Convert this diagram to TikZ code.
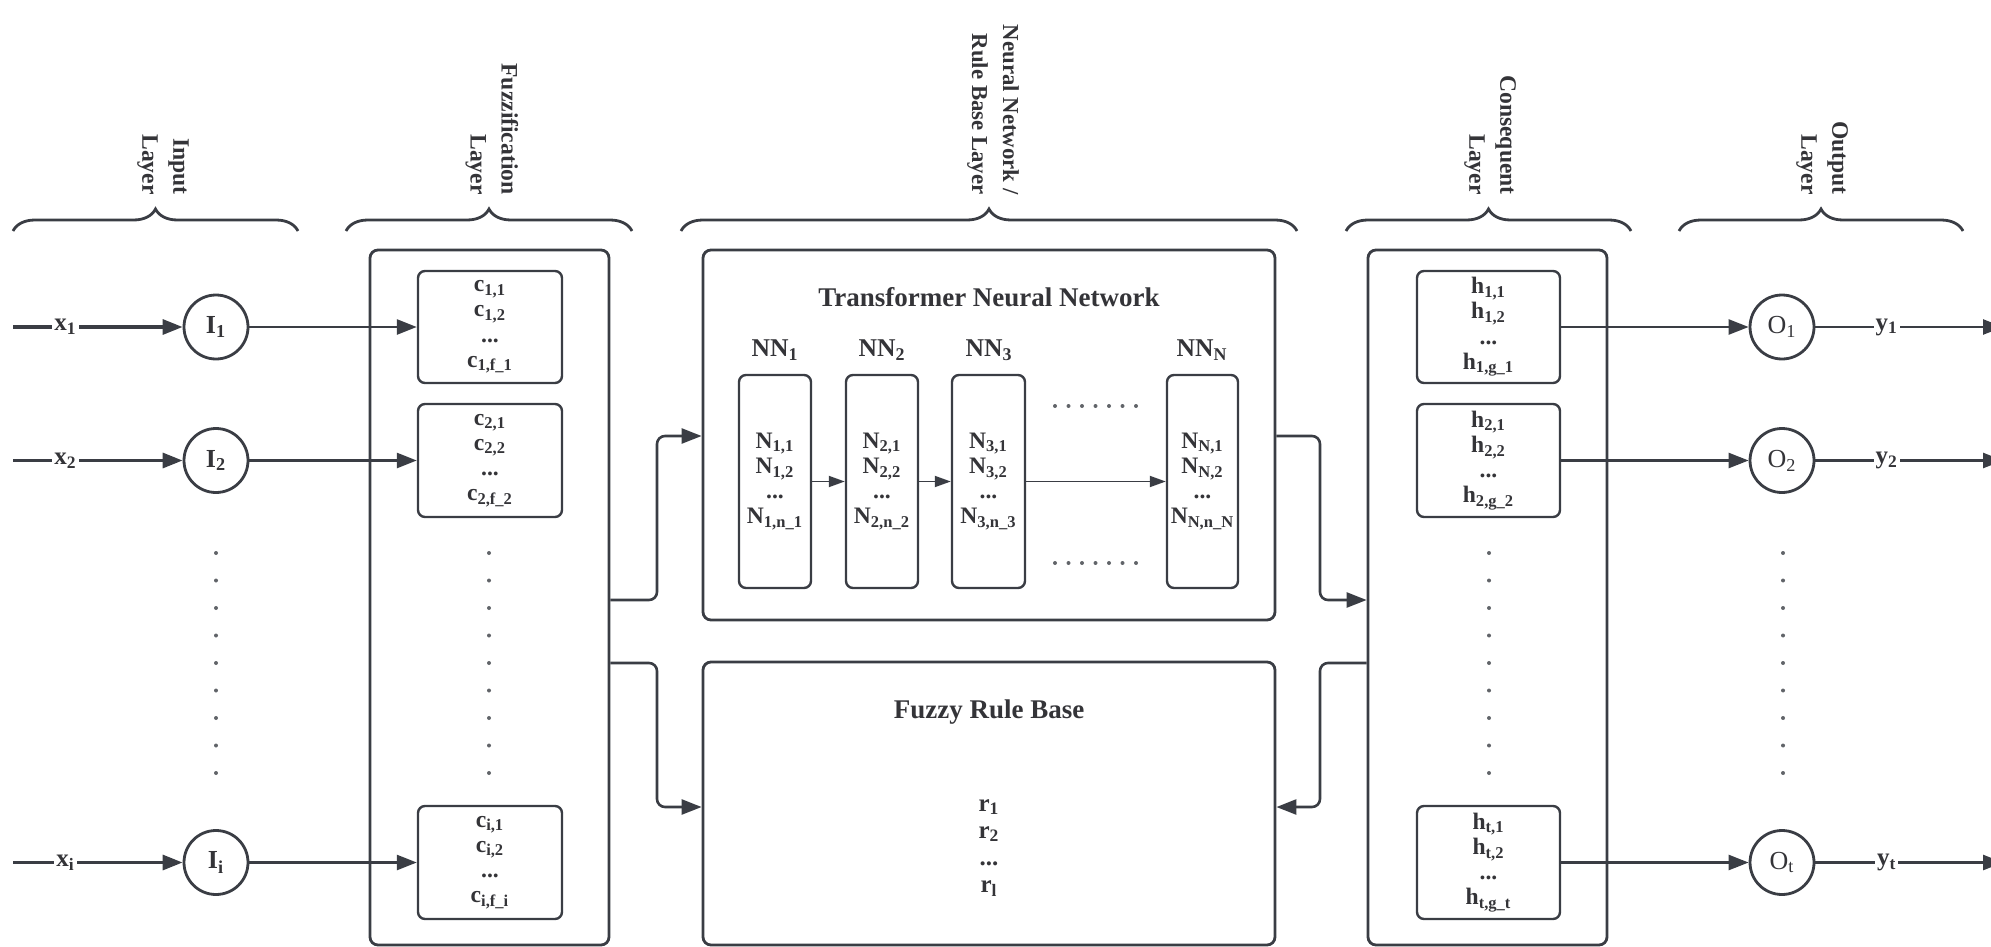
\documentclass[tikz,border=0pt]{standalone}
\usepackage{fontspec}
\setmainfont{Liberation Serif}
\usetikzlibrary{arrows.meta,decorations.pathreplacing,fit,calc}
\definecolor{ink}{RGB}{58,61,68}
\definecolor{txt}{RGB}{52,52,56}
\begin{document}
\begin{tikzpicture}[x=0.5pt,y=-0.5pt,
  outerbox/.style={draw=ink, line width=1.4pt, rounded corners=4pt, inner sep=0pt},
  innerbox/.style={draw=ink, line width=1.2pt, rounded corners=3.5pt, inner sep=0pt},
  neuron/.style={circle, draw=ink, line width=1.4pt, minimum size=32pt, inner sep=0pt, text=txt},
  conn/.style={draw=ink, line width=1.3pt, -{Triangle[length=10pt,width=7.5pt]}},
  inconn/.style={draw=ink, line width=1.6pt, -{Triangle[length=10pt,width=7.5pt]}},
  thinconn/.style={draw=ink, line width=0.9pt, -{Triangle[length=8pt,width=5.5pt]}},
  lbl/.style={fill=white, inner sep=1pt, text=txt, font=\fontsize{12.5}{14}\selectfont\bfseries},
  layerlbl/.style={rotate=-90, anchor=east, align=right, inner sep=0pt, text=txt, font=\fontsize{11.8}{15.5}\selectfont\bfseries},
  brc/.style={draw=ink, line width=1.4pt, decorate, decoration={brace, amplitude=11pt}},
  boxtext/.style={align=center, inner sep=0pt, text=txt, font=\fontsize{11.8}{12.6}\selectfont\bfseries},
  ruletext/.style={align=center, inner sep=0pt, text=txt, font=\fontsize{12.5}{13.6}\selectfont\bfseries},
  titletext/.style={inner sep=0pt, text=txt, font=\fontsize{13.5}{15}\selectfont\bfseries},
  nnlbl/.style={inner sep=0pt, text=txt, font=\fontsize{12.8}{14}\selectfont\bfseries},
  dotfill/.style={fill=ink!80}
]
\useasboundingbox (0,0) rectangle (1991,947);

% ---------- braces and layer labels ----------
\draw[brc] (13,231) -- (298,231);
\draw[brc] (346,231) -- (632,231);
\draw[brc] (681,231) -- (1297,231);
\draw[brc] (1346,231) -- (1631,231);
\draw[brc] (1679,231) -- (1963,231);
\node[layerlbl] (Lin) at (163,195) {Input\\Layer};
\node[layerlbl] (Lfz) at (492,195) {Fuzzification\\Layer};
\node[layerlbl, font=\fontsize{11.4}{15.5}\selectfont\bfseries] (Lnn) at (993,195) {Neural Network /\\Rule Base Layer};
\node[layerlbl] (Lcs) at (1490,195) {Consequent\\Layer};
\node[layerlbl] (Lout) at (1822,195) {Output\\Layer};

% ---------- input layer ----------
\node[neuron, font=\fontsize{13}{15}\selectfont\bfseries] (I1) at (216,327) {I\textsubscript{1}};
\node[neuron, font=\fontsize{13}{15}\selectfont\bfseries] (I2) at (216,460.5) {I\textsubscript{2}};
\node[neuron, font=\fontsize{13}{15}\selectfont\bfseries] (Ii) at (216,862.5) {I\textsubscript{i}};
\coordinate (x1s) at (13,327);
\coordinate (x2s) at (13,460.5);
\coordinate (xis) at (13,862.5);
\draw[inconn] (x1s) -- node[lbl, pos=0.31] {x\textsubscript{1}} (I1);
\draw[inconn] (x2s) -- node[lbl, pos=0.31] {x\textsubscript{2}} (I2);
\draw[inconn] (xis) -- node[lbl, pos=0.31] {x\textsubscript{i}} (Ii);
\foreach \k in {0,...,8} {
  \fill[dotfill] ({216},{553+27.5*\k}) circle (1pt);
  \fill[dotfill] ({489},{553+27.5*\k}) circle (1pt);
  \fill[dotfill] ({1489},{553+27.5*\k}) circle (1pt);
  \fill[dotfill] ({1783},{553+27.5*\k}) circle (1pt);
}

% ---------- fuzzification layer ----------
\node[outerbox, fit={(370,250) (609,945)}] (fz) {};
\node[innerbox, fit={(418,271) (562,383)}] (c1) {};
\node[innerbox, fit={(418,404) (562,517)}] (c2) {};
\node[innerbox, fit={(418,806) (562,919)}] (ci) {};
\node[boxtext] (c1t) at (c1.center) {c\textsubscript{1,1}\\c\textsubscript{1,2}\\...\\c\textsubscript{1,f\_1}};
\node[boxtext] (c2t) at (c2.center) {c\textsubscript{2,1}\\c\textsubscript{2,2}\\...\\c\textsubscript{2,f\_2}};
\node[boxtext] (cit) at (ci.center) {c\textsubscript{i,1}\\c\textsubscript{i,2}\\...\\c\textsubscript{i,f\_i}};
\draw[conn] (I1.east) -- (c1.west |- I1.east);
\draw[conn] (I2.east) -- (c2.west |- I2.east);
\draw[conn] (Ii.east) -- (ci.west |- Ii.east);

% ---------- transformer neural network ----------
\node[outerbox, fit={(703,250) (1275,620)}] (tnn) {};
\node[titletext] (tnnT) at (989,297) {Transformer Neural Network};
\node[nnlbl] (nnl1) at (775,350) {NN\textsubscript{1}};
\node[nnlbl] (nnl2) at (882,350) {NN\textsubscript{2}};
\node[nnlbl] (nnl3) at (989,350) {NN\textsubscript{3}};
\node[nnlbl] (nnlN) at (1202,350) {NN\textsubscript{N}};
\node[innerbox, fit={(739,375) (811,588)}] (nb1) {};
\node[innerbox, fit={(846,375) (918,588)}] (nb2) {};
\node[innerbox, fit={(952,375) (1025,588)}] (nb3) {};
\node[innerbox, fit={(1167,375) (1238,588)}] (nbN) {};
\node[boxtext] (nb1t) at (nb1.center) {N\textsubscript{1,1}\\N\textsubscript{1,2}\\...\\N\textsubscript{1,n\_1}};
\node[boxtext] (nb2t) at (nb2.center) {N\textsubscript{2,1}\\N\textsubscript{2,2}\\...\\N\textsubscript{2,n\_2}};
\node[boxtext] (nb3t) at (nb3.center) {N\textsubscript{3,1}\\N\textsubscript{3,2}\\...\\N\textsubscript{3,n\_3}};
\node[boxtext] (nbNt) at (nbN.center) {N\textsubscript{N,1}\\N\textsubscript{N,2}\\...\\N\textsubscript{N,n\_N}};
\draw[thinconn] (nb1.east) -- (nb2.west);
\draw[thinconn] (nb2.east) -- (nb3.west);
\draw[thinconn] (nb3.east) -- (nbN.west);
\foreach \k in {0,...,6} {
  \fill[dotfill] ({1055+13.5*\k},{406}) circle (1pt);
  \fill[dotfill] ({1055+13.5*\k},{563}) circle (1pt);
}

% ---------- fuzzy rule base ----------
\node[outerbox, fit={(703,662) (1275,945)}] (frb) {};
\node[titletext] (frbT) at (989,712) {Fuzzy Rule Base};
\node[ruletext] (frbr) at (989,848) {r\textsubscript{1}\\r\textsubscript{2}\\...\\r\textsubscript{l}};

% ---------- consequent layer ----------
\node[outerbox, fit={(1368,250) (1607,945)}] (cs) {};
\node[innerbox, fit={(1417,271) (1560,383)}] (h1) {};
\node[innerbox, fit={(1417,404) (1560,517)}] (h2) {};
\node[innerbox, fit={(1417,806) (1560,919)}] (ht) {};
\node[boxtext] (h1t) at (h1.center) {h\textsubscript{1,1}\\h\textsubscript{1,2}\\...\\h\textsubscript{1,g\_1}};
\node[boxtext] (h2t) at (h2.center) {h\textsubscript{2,1}\\h\textsubscript{2,2}\\...\\h\textsubscript{2,g\_2}};
\node[boxtext] (htt) at (ht.center) {h\textsubscript{t,1}\\h\textsubscript{t,2}\\...\\h\textsubscript{t,g\_t}};

% ---------- output layer ----------
\node[neuron, font=\fontsize{13}{15}\selectfont] (O1) at (1782,327) {O\textsubscript{1}};
\node[neuron, font=\fontsize{13}{15}\selectfont] (O2) at (1782,460.5) {O\textsubscript{2}};
\node[neuron, font=\fontsize{13}{15}\selectfont] (Ot) at (1782,862.5) {O\textsubscript{t}};
\draw[conn] (h1.east) -- (O1.west);
\draw[conn] (h2.east) -- (O2.west);
\draw[conn] (ht.east) -- (Ot.west);
\coordinate (y1e) at (2003,327);
\coordinate (y2e) at (2003,460.5);
\coordinate (yte) at (2003,862.5);
\draw[conn] (O1) -- node[lbl, pos=0.38] {y\textsubscript{1}} (y1e);
\draw[conn] (O2) -- node[lbl, pos=0.38] {y\textsubscript{2}} (y2e);
\draw[conn] (Ot) -- node[lbl, pos=0.38] {y\textsubscript{t}} (yte);

% ---------- routing between layers ----------
\coordinate (yA) at (0,600);
\coordinate (yB) at (0,663);
\coordinate (yT) at (0,436);
\coordinate (yR) at (0,807);
\coordinate (xL) at (657,0);
\coordinate (xR) at (1320,0);
\draw[conn, rounded corners=4pt] (fz.east |- yA) -| (xL |- yT) -- (tnn.west |- yT);
\draw[conn, rounded corners=4pt] (fz.east |- yB) -| (xL |- yR) -- (frb.west |- yR);
\draw[conn, rounded corners=4pt] (tnn.east |- yT) -| (xR |- yA) -- (cs.west |- yA);
\draw[conn, rounded corners=4pt] (cs.west |- yB) -| (xR |- yR) -- (frb.east |- yR);
\end{tikzpicture}
\end{document}
